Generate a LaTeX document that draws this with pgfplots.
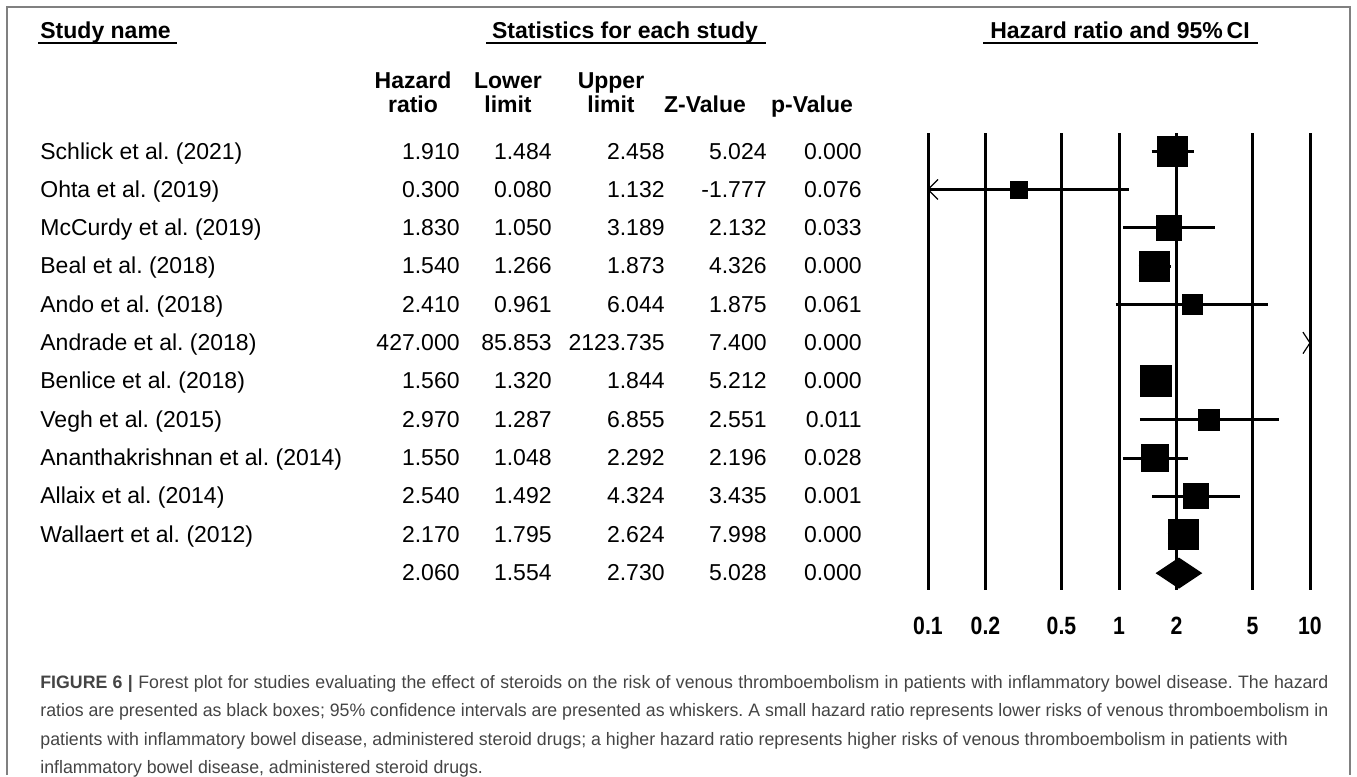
\documentclass[border=0pt]{standalone}
\usepackage{fontspec}
\setmainfont{Liberation Sans}
\newfontfamily\capfont{Liberation Sans}[FakeStretch=0.985]
\newfontfamily\tickfont{Liberation Sans}[FakeStretch=0.85]
\usepackage{pgfplots}
\pgfplotsset{compat=1.18}
\usepackage{pgfplotstable}
\frenchspacing

\definecolor{framegray}{RGB}{128,128,128}
\definecolor{capgray}{RGB}{68,68,68}

% study table: hazard ratio, limits, z, p, box size (px)
\pgfplotstableread[col sep=comma]{
name,hr,lo,hi,z,p,w
Schlick et al. (2021),1.910,1.484,2.458,5.024,0.000,30
Ohta et al. (2019),0.300,0.080,1.132,-1.777,0.076,17
McCurdy et al. (2019),1.830,1.050,3.189,2.132,0.033,25
Beal et al. (2018),1.540,1.266,1.873,4.326,0.000,30
Ando et al. (2018),2.410,0.961,6.044,1.875,0.061,20
Andrade et al. (2018),427.000,85.853,2123.735,7.400,0.000,0
Benlice et al. (2018),1.560,1.320,1.844,5.212,0.000,31
Vegh et al. (2015),2.970,1.287,6.855,2.551,0.011,21
Ananthakrishnan et al. (2014),1.550,1.048,2.292,2.196,0.028,27
Allaix et al. (2014),2.540,1.492,4.324,3.435,0.001,25
Wallaert et al. (2012),2.170,1.795,2.624,7.998,0.000,30
{},2.060,1.554,2.730,5.028,0.000,0
}\studies

% confidence intervals as segments (Andrade lies beyond the axis)
\pgfplotstableread{
x y
1.484 1
2.458 1
nan nan
0.080 2
1.132 2
nan nan
1.050 3
3.189 3
nan nan
1.266 4
1.873 4
nan nan
0.961 5
6.044 5
nan nan
1.320 7
1.844 7
nan nan
1.287 8
6.855 8
nan nan
1.048 9
2.292 9
nan nan
1.492 10
4.324 10
nan nan
1.795 11
2.624 11
}\citable

\begin{document}
\begin{tikzpicture}
\begin{scope}[x=0.5pt,y=-0.5pt]
\useasboundingbox (0,0) rectangle (1357,775);
\draw[framegray, line width=1pt] (7,775) -- (7,7) -- (1350,7) -- (1350,775);
\end{scope}

\begin{axis}[
  at={(464pt,-66.5pt)}, anchor=north west,
  scale only axis, width=191pt, height=228.5pt,
  xmode=log, xmin=0.1, xmax=10,
  ymin=0.53, ymax=12.44, y dir=reverse,
  axis line style={draw=none},
  ytick=\empty, major tick length=0pt,
  xtick={0.1,0.2,0.5,1,2,5,10},
  xticklabels={0.1,0.2,0.5,1,2,5,10},
  xmajorgrids, grid style={black, line width=1.5pt},
  xticklabel style={anchor=center, yshift=-18pt,
    font=\tickfont\bfseries\fontsize{12.5}{13}\selectfont},
  clip=true,
]
\addplot[black, line width=1.5pt, unbounded coords=jump] table {\citable};
\addplot[scatter, only marks, mark=square*,
  scatter/use mapped color={draw=none, fill=black},
  visualization depends on={\thisrow{w}/4 \as \msz},
  scatter/@pre marker code/.append style={/tikz/mark size=\msz},
  skip coords between index={5}{6},
  skip coords between index={11}{12}]
  table[x=hr, y expr=\coordindex+1] {\studies};
\addplot[fill=black, draw=none] coordinates {(1.554,12) (2.060,11.595) (2.730,12) (2.060,12.405)} -- cycle;
\addplot[black, line width=0.6pt] coordinates {(0.1128,1.74) (0.1,2) (0.1128,2.26)};
\addplot[black, line width=0.6pt] coordinates {(9.19,5.72) (10,6) (9.19,6.28)};
\end{axis}

\begin{scope}[x=0.5pt,y=-0.5pt]
% top headers
\begin{scope}[font=\bfseries\fontsize{11.5}{13}\selectfont]
\node[anchor=base west, inner sep=0] at (40,38) {Study name};
\node[anchor=base, inner sep=0] at (625,38) {Statistics for each study};
\node[anchor=base, inner sep=0] at (1120,38) {Hazard ratio and 95\%\,CI};
\node[anchor=base, inner sep=0] at (413,88) {Hazard};
\node[anchor=base, inner sep=0] at (413,112) {ratio};
\node[anchor=base, inner sep=0] at (508,88) {Lower};
\node[anchor=base, inner sep=0] at (508,112) {limit};
\node[anchor=base, inner sep=0] at (611,88) {Upper};
\node[anchor=base, inner sep=0] at (611,112) {limit};
\node[anchor=base, inner sep=0] at (705,112) {Z-Value};
\node[anchor=base, inner sep=0] at (812,112) {p-Value};
\end{scope}
\draw[black, line width=1pt] (486,43) -- (766,43);
\draw[black, line width=1pt] (38,43) -- (177,43);
\draw[black, line width=1pt] (983,43) -- (1258,43);

% table rows
\begin{scope}[font=\fontsize{11.5}{13}\selectfont]
\pgfplotstableforeachcolumnelement{name}\of\studies\as\cell{%
  \node[anchor=base west, inner sep=0] at (40,{159+38.3*\pgfplotstablerow}) {\cell};}
\foreach \col/\xr in {hr/460,lo/552,hi/665,z/767,p/862}{%
  \pgfplotstableforeachcolumnelement{\col}\of\studies\as\cell{%
    \node[anchor=base east, inner sep=0] at (\xr,{159+38.3*\pgfplotstablerow}) {\cell};}}
\end{scope}

% caption
\begin{scope}[font=\capfont\fontsize{9}{10}\selectfont, text=capgray]
\node[anchor=base west, inner sep=0] at (40,688) {\makebox[644pt][s]{\textbf{FIGURE 6 |} Forest plot for studies evaluating the effect of steroids on the risk of venous thromboembolism in patients with inflammatory bowel disease. The hazard}};
\node[anchor=base west, inner sep=0] at (40,716.5) {\makebox[644pt][s]{ratios are presented as black boxes; 95\% confidence intervals are presented as whiskers. A small hazard ratio represents lower risks of venous thromboembolism in}};
\node[anchor=base west, inner sep=0] at (40,745) {patients with inflammatory bowel disease, administered steroid drugs; a higher hazard ratio represents higher risks of venous thromboembolism in patients with};
\node[anchor=base west, inner sep=0] at (40,773) {inflammatory bowel disease, administered steroid drugs.};
\end{scope}
\end{scope}
\end{tikzpicture}
\end{document}
